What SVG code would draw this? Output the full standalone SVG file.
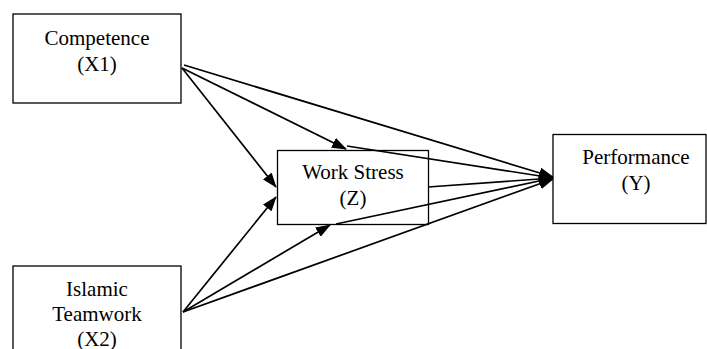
<svg xmlns="http://www.w3.org/2000/svg" width="707" height="349" viewBox="0 0 707 349">
<style>
.box{fill:#fff;stroke:#000;stroke-width:1.3}
text{font-family:'Liberation Serif','Times New Roman','DejaVu Serif',serif;font-size:21px;fill:#000;text-anchor:middle}
.con{stroke:#000;stroke-width:1.7;fill:none;marker-end:url(#ah)}
</style>
<defs>
<marker id="ah" markerUnits="userSpaceOnUse" markerWidth="16" markerHeight="12" refX="14" refY="6" orient="auto">
<path d="M0,0.5 L15,6 L0,11.5 z" fill="#000"/>
</marker>
</defs>
<rect width="707" height="349" fill="#fff"/>
<g id="connectors">
<line class="con" x1="182" y1="68" x2="276" y2="187"/>
<line class="con" x1="182" y1="68" x2="346" y2="149"/>
<line class="con" x1="184" y1="65" x2="553" y2="177"/>
<line class="con" x1="347" y1="146" x2="553" y2="178"/>
<line class="con" x1="428" y1="187" x2="553" y2="178"/>
<line class="con" x1="336" y1="224" x2="553" y2="178"/>
<line class="con" x1="183" y1="312" x2="553" y2="179"/>
<line class="con" x1="183" y1="312" x2="276" y2="197"/>
<line class="con" x1="183" y1="312" x2="330" y2="225"/>
</g>
<g id="x1" font-family="Liberation Serif, serif">
<rect class="box" x="13" y="14" width="168" height="89"/>
<text x="97" y="45">Competence</text>
<text x="97" y="71">(X1)</text>
</g>
<g id="z" font-family="Liberation Serif, serif">
<rect class="box" x="277.5" y="150.5" width="151" height="74" fill-opacity="0"/>
<text x="353" y="179">Work Stress</text>
<text x="353" y="205">(Z)</text>
</g>
<g id="y" font-family="Liberation Serif, serif">
<rect class="box" x="553" y="134.5" width="153" height="89"/>
<text x="636" y="164">Performance</text>
<text x="636" y="190">(Y)</text>
</g>
<g id="x2" font-family="Liberation Serif, serif">
<rect class="box" x="13" y="266" width="168" height="100"/>
<text x="97" y="296">Islamic</text>
<text x="97" y="321">Teamwork</text>
<text x="97" y="346">(X2)</text>
</g>
</svg>
